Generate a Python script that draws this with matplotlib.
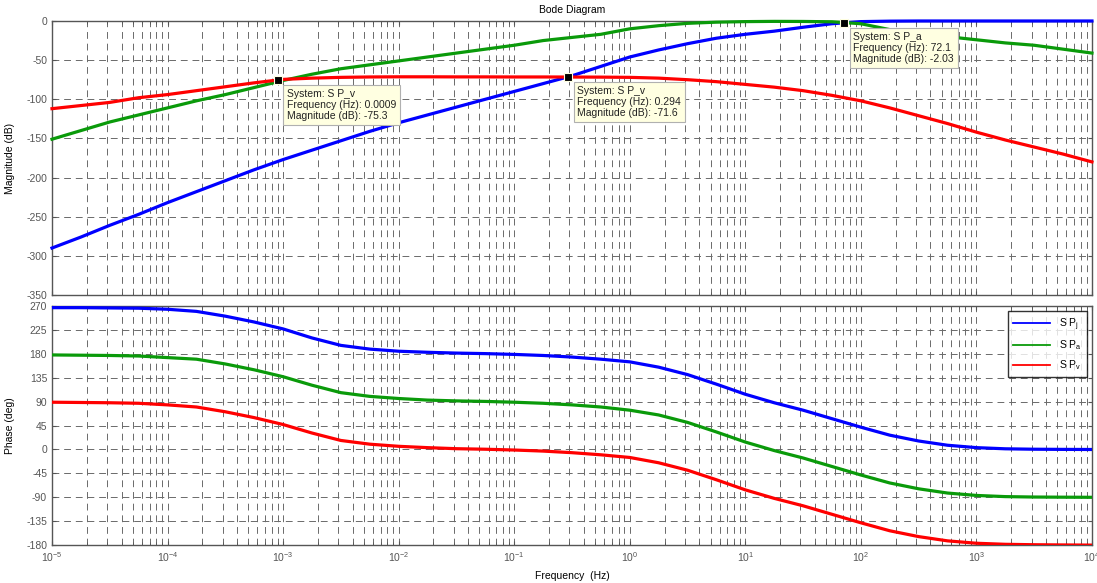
import numpy as np
import matplotlib
matplotlib.use('Agg')
import matplotlib.pyplot as plt
from matplotlib.ticker import LogLocator, NullFormatter, FixedLocator

plt.rcParams['font.family'] = ['Liberation Sans', 'DejaVu Sans']
plt.rcParams['mathtext.fontset'] = 'custom'
plt.rcParams['mathtext.rm'] = 'Liberation Sans'
plt.rcParams['mathtext.it'] = 'Liberation Sans:italic'
plt.rcParams['axes.unicode_minus'] = False

# frequency grid, quarter-decade steps (log10 Hz)
freq_exp = [-5.0, -4.75, -4.5, -4.25, -4.0, -3.75, -3.5, -3.25, -3.0,
            -2.75, -2.5, -2.25, -2.0, -1.75, -1.5, -1.25, -1.0, -0.75,
            -0.5, -0.25, 0.0, 0.25, 0.5, 0.75, 1.0, 1.25, 1.5, 1.75,
            2.0, 2.25, 2.5, 2.75, 3.0, 3.25, 3.5, 3.75, 4.0]
freq = 10.0 ** np.array(freq_exp)

# magnitude (dB)
mag_j = [-290, -276, -261, -247, -232, -218, -204, -190, -177,
         -165, -153, -141, -130, -120, -110, -100, -90, -80,
         -70, -58, -46, -37, -29, -22, -17, -13, -8, -3.5,
         -0.8, -0.2, 0, 0, 0, 0, 0, 0, 0]
mag_a = [-151, -140, -129, -120, -111, -102, -94, -85, -76,
         -68, -61, -56, -51, -46, -41, -36, -31, -25,
         -21, -17, -10, -6, -3, -1.5, -0.8, -0.5, -0.6, -1.0,
         -3.5, -11, -16, -20, -24, -28, -31, -36, -41]
mag_v = [-112, -108, -104, -98, -94, -89, -84, -79, -74.6,
         -73, -72, -71.5, -71.3, -71.3, -71.4, -71.4, -71.5, -71.5,
         -71.6, -71.7, -72, -73, -75, -77.5, -81, -84.5, -89, -95,
         -102, -111, -121, -131, -142, -152, -161, -170, -180]

# phase (deg)
phase_j = [267, 267, 266.5, 266, 264, 260, 251, 240, 227,
           210, 196, 189, 185, 183, 181.5, 180.5, 179, 177,
           174, 170, 165, 155, 141, 123, 104, 88, 74, 58,
           42, 27, 16, 8, 3.5, 1.3, 0.5, 0.2, 0]
phase_a = [178, 177.5, 177, 176, 173, 170, 161, 150, 137,
           121, 107, 100, 96, 93, 91.5, 90.5, 89, 87,
           84, 80, 74, 65, 51, 33, 14, -2, -16, -32,
           -48, -63, -74, -82, -86.5, -88.7, -89.5, -89.8, -90]
phase_v = [89, 88.5, 88, 87, 84, 80, 71, 60, 47,
           31, 17, 10, 6, 3.5, 1.5, 0.5, -1, -3,
           -6, -10, -15, -25, -39, -57, -76, -92, -106, -122,
           -138, -153, -164, -172, -176.5, -178.5, -179.3, -179.7, -180]

labels = ['S P$_{\\mathrm{j}}$', 'S P$_{\\mathrm{a}}$', 'S P$_{\\mathrm{v}}$']
colors = ['#0000ff', '#0a9a0a', '#ff0000']

# data tips: (system, frequency Hz, magnitude dB)
tips = [('S P_v', 0.0009, -75.3),
        ('S P_v', 0.294, -71.6),
        ('S P_a', 72.1, -2.03)]
tip_freq_text = ['0.0009', '0.294', '72.1']

mag_ticks = [0, -50, -100, -150, -200, -250, -300, -350]
phase_ticks = [270, 225, 180, 135, 90, 45, 0, -45, -90, -135, -180]
decades = [1e-5, 1e-4, 1e-3, 1e-2, 1e-1, 1e0, 1e1, 1e2, 1e3, 1e4]
decade_labels = ['$10^{%d}$' % e for e in range(-5, 5)]

tick_grey = '#555555'
grid_kw = dict(color='#6a6a6a', linewidth=0.7, linestyle=(0, (7, 5)))

fig = plt.figure(figsize=(10.97, 5.83), dpi=100)
ax1 = fig.add_axes([0.0474, 0.494, 0.948, 0.470])
ax2 = fig.add_axes([0.0474, 0.065, 0.948, 0.410])

for ax in (ax1, ax2):
    ax.set_xscale('log')
    ax.set_xlim(1e-5, 1e4)
    ax.xaxis.set_major_locator(FixedLocator(decades))
    ax.xaxis.set_minor_locator(LogLocator(base=10, subs=np.arange(2, 10), numticks=100))
    ax.xaxis.set_minor_formatter(NullFormatter())
    ax.grid(True, which='major', axis='both', **grid_kw)
    ax.grid(True, which='minor', axis='x', **grid_kw)
    ax.tick_params(which='both', direction='in', top=True, right=True,
                   colors=tick_grey, labelsize=7.5, length=3)
    ax.tick_params(which='minor', length=2)
    for s in ax.spines.values():
        s.set_color('#555555')
        s.set_linewidth(1.0)
    ax.set_axisbelow(True)

# magnitude panel
for m, c in zip([mag_j, mag_a, mag_v], colors):
    ax1.plot(freq, m, color=c, linewidth=2.3, clip_on=False, zorder=3)
ax1.set_ylim(-350, 0)
ax1.set_yticks(mag_ticks)
ax1.set_xticklabels([])
ax1.set_ylabel('Magnitude (dB)', fontsize=7.5)
ax1.yaxis.set_label_coords(-0.036, 0.5)
ax1.set_title('Bode Diagram', fontsize=7.5, pad=6)

for (sysname, f, m), ftxt in zip(tips, tip_freq_text):
    ax1.plot([f], [m], marker='s', markersize=6, markerfacecolor='black',
             markeredgecolor='#ffffe1', markeredgewidth=0.8, clip_on=False, zorder=6)
    txt = 'System: %s\nFrequency (Hz): %s\nMagnitude (dB): %s' % (sysname, ftxt, m)
    ax1.annotate(txt, xy=(f, m), xytext=(9, -9), textcoords='offset pixels',
                 ha='left', va='top', fontsize=7.5, color='#222222', linespacing=1.15,
                 bbox=dict(boxstyle='square,pad=0.35', facecolor='#ffffe1',
                           edgecolor='#b0b0b0', linewidth=0.8),
                 zorder=7, annotation_clip=False)

# phase panel
for p, c, lab in zip([phase_j, phase_a, phase_v], colors, labels):
    ax2.plot(freq, p, color=c, linewidth=2.3, label=lab, zorder=3)
ax2.set_ylim(-180, 270)
ax2.set_yticks(phase_ticks)
ax2.set_xticklabels(decade_labels)
ax2.set_ylabel('Phase (deg)', fontsize=7.5)
ax2.yaxis.set_label_coords(-0.036, 0.5)
ax2.set_xlabel('Frequency  (Hz)', fontsize=7.5, labelpad=5)

leg = ax2.legend(loc='upper right', fontsize=7.5, frameon=True, fancybox=False,
                 handlelength=3.6, labelspacing=0.55, borderaxespad=0.5,
                 borderpad=0.5, handletextpad=0.8)
leg.get_frame().set_edgecolor('black')
leg.get_frame().set_linewidth(1.0)
for h in leg.get_lines():
    h.set_linewidth(1.3)

fig.savefig('out.png', dpi=100)
